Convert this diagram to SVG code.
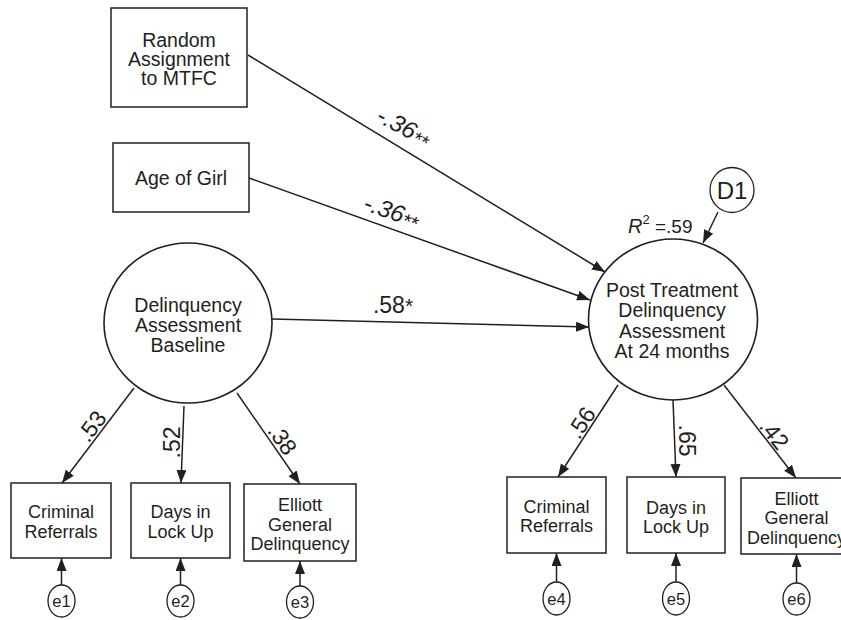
<svg xmlns="http://www.w3.org/2000/svg" width="841" height="620" viewBox="0 0 841 620">
<defs>
<style>
.box{fill:#fff;stroke:#231f20;stroke-width:1.5}
.lat{fill:#fff;stroke:#231f20;stroke-width:1.6}
.err{fill:#fff;stroke:#231f20;stroke-width:1.3}
.t{font-family:"Liberation Sans",Arial,sans-serif;fill:#231f20;text-anchor:middle}
.bt{font-size:19.5px}
.sm{font-size:18px}
.ct{font-size:19.5px}
.coef{font-family:"Liberation Sans",Arial,sans-serif;fill:#231f20;font-size:23px;text-anchor:middle}
.path{font-family:"Liberation Sans",Arial,sans-serif;fill:#231f20;font-size:24px;text-anchor:middle;font-style:italic}
.et{font-size:16.5px}
.c{stroke:#231f20;stroke-width:1.5;fill:none;marker-end:url(#ah)}
</style>
<marker id="ah" markerUnits="userSpaceOnUse" markerWidth="14" markerHeight="11" refX="13" refY="5" orient="auto">
<path d="M0,0 L13,5 L0,10 z" fill="#231f20"/>
</marker>
</defs>
<rect width="841" height="620" fill="#fff"/>

<g id="connectors">
<line class="c" x1="248" y1="55" x2="605" y2="272"/>
<line class="c" x1="249" y1="178" x2="590" y2="300"/>
<line class="c" x1="272" y1="319" x2="589" y2="327"/>
<line class="c" x1="718" y1="212" x2="703" y2="243"/>
<line class="c" x1="134" y1="388" x2="62" y2="483"/>
<line class="c" x1="184" y1="406" x2="181" y2="483"/>
<line class="c" x1="237" y1="393" x2="300" y2="484"/>
<line class="c" x1="618" y1="385" x2="558" y2="477"/>
<line class="c" x1="673" y1="400" x2="676" y2="477"/>
<line class="c" x1="724" y1="385" x2="796" y2="478"/>
<line class="c" x1="61.5" y1="585" x2="61.5" y2="558"/>
<line class="c" x1="180.5" y1="585" x2="180.5" y2="558"/>
<line class="c" x1="300" y1="586" x2="300" y2="561"/>
<line class="c" x1="556.5" y1="582" x2="556.5" y2="553"/>
<line class="c" x1="676" y1="582" x2="676" y2="553"/>
<line class="c" x1="796.5" y1="583" x2="796.5" y2="554"/>
</g>

<g id="labels">
<text class="path" transform="translate(400,134) rotate(28)">-.36<tspan font-size="20" dy="3">**</tspan></text>
<text class="path" transform="translate(389,219) rotate(19)">-.36<tspan font-size="20" dy="3">**</tspan></text>
<text class="coef" x="393" y="313" font-size="24">.58<tspan font-size="21">*</tspan></text>
<text class="coef" transform="translate(98,431) rotate(-53)">.53</text>
<text class="coef" transform="translate(179.5,442.5) rotate(-90)">.52</text>
<text class="coef" transform="translate(276,444) rotate(55)">.38</text>
<text class="coef" transform="translate(588,427) rotate(-57)">.56</text>
<text class="coef" transform="translate(678.5,440.5) rotate(90)">.65</text>
<text class="coef" transform="translate(768,439) rotate(52)">.42</text>
<text class="t" x="628" y="233" style="text-anchor:start;font-size:20px"><tspan font-style="italic">R</tspan><tspan font-size="13" dy="-9">2</tspan><tspan dy="9" font-size="19"> =.59</tspan></text>
</g>

<g id="n-random">
<rect class="box" x="111" y="8" width="136" height="99"/>
<text class="t bt" x="179" y="47">Random</text>
<text class="t bt" x="179" y="66">Assignment</text>
<text class="t bt" x="179" y="85">to MTFC</text>
</g>
<g id="n-age">
<rect class="box" x="113" y="143" width="136" height="69"/>
<text class="t bt" x="181" y="185">Age of Girl</text>
</g>
<g id="n-baseline">
<ellipse class="lat" cx="188" cy="323" rx="84" ry="80"/>
<text class="t ct" x="188" y="312">Delinquency</text>
<text class="t ct" x="188" y="332">Assessment</text>
<text class="t ct" x="188" y="352">Baseline</text>
</g>
<g id="n-post">
<ellipse class="lat" cx="673" cy="319.5" rx="84.5" ry="80.5"/>
<text class="t ct" x="672" y="297">Post Treatment</text>
<text class="t ct" x="672" y="317">Delinquency</text>
<text class="t ct" x="672" y="337.5">Assessment</text>
<text class="t ct" x="672" y="358">At 24 months</text>
</g>
<g id="n-d1">
<ellipse class="err" cx="732" cy="190" rx="22" ry="22.5"/>
<text class="t" x="732" y="199" font-size="24">D1</text>
</g>

<g id="n-crim1">
<rect class="box" x="11" y="483" width="100" height="75"/>
<text class="t sm" x="61" y="518">Criminal</text>
<text class="t sm" x="61" y="538">Referrals</text>
</g>
<g id="n-days1">
<rect class="box" x="131" y="483" width="99" height="75"/>
<text class="t sm" x="180.5" y="518">Days in</text>
<text class="t sm" x="180.5" y="538">Lock Up</text>
</g>
<g id="n-elliott1">
<rect class="box" x="244" y="484" width="112" height="77"/>
<text class="t sm" x="300" y="511">Elliott</text>
<text class="t sm" x="300" y="530.5">General</text>
<text class="t sm" x="300" y="550">Delinquency</text>
</g>
<g id="n-crim2">
<rect class="box" x="507" y="477" width="99" height="76"/>
<text class="t sm" x="556.5" y="513">Criminal</text>
<text class="t sm" x="556.5" y="532">Referrals</text>
</g>
<g id="n-days2">
<rect class="box" x="627" y="477" width="98" height="76"/>
<text class="t sm" x="676" y="514">Days in</text>
<text class="t sm" x="676" y="532.5">Lock Up</text>
</g>
<g id="n-elliott2">
<rect class="box" x="741" y="478" width="111" height="76"/>
<text class="t sm" x="796.5" y="505">Elliott</text>
<text class="t sm" x="796.5" y="524">General</text>
<text class="t sm" x="796.5" y="544">Delinquency</text>
</g>

<g id="n-e1"><ellipse class="err" cx="61.5" cy="601" rx="13.5" ry="16"/><text class="t et" x="61.5" y="607">e1</text></g>
<g id="n-e2"><ellipse class="err" cx="180.5" cy="601" rx="13.5" ry="16"/><text class="t et" x="180.5" y="607">e2</text></g>
<g id="n-e3"><ellipse class="err" cx="300" cy="602" rx="13.5" ry="16"/><text class="t et" x="300" y="608">e3</text></g>
<g id="n-e4"><ellipse class="err" cx="556.5" cy="598.5" rx="13.5" ry="16.5"/><text class="t et" x="556.5" y="604.5">e4</text></g>
<g id="n-e5"><ellipse class="err" cx="676" cy="598.5" rx="13.5" ry="16.5"/><text class="t et" x="676" y="604.5">e5</text></g>
<g id="n-e6"><ellipse class="err" cx="796.5" cy="599" rx="13.5" ry="16"/><text class="t et" x="796.5" y="605">e6</text></g>
</svg>
